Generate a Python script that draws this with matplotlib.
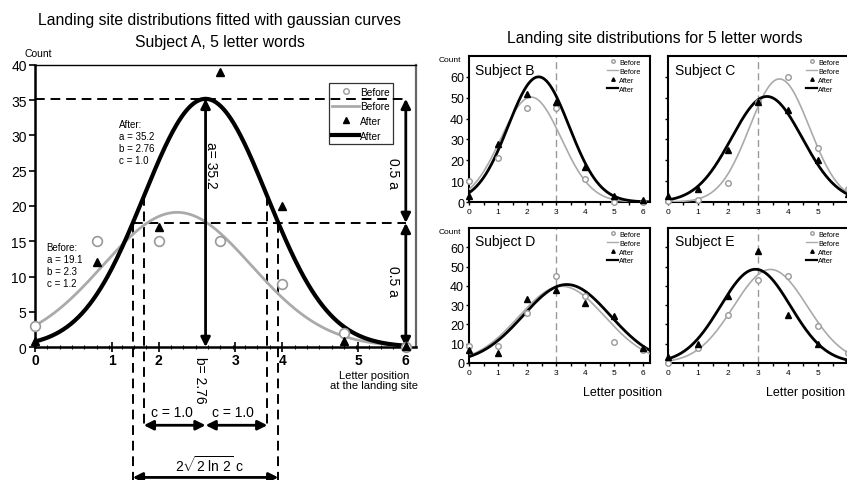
import numpy as np
import matplotlib
matplotlib.use("Agg")
import matplotlib.pyplot as plt
from matplotlib.lines import Line2D

plt.rcParams["font.family"] = ["Liberation Sans", "DejaVu Sans"]
plt.rcParams["mathtext.fontset"] = "custom"
plt.rcParams["mathtext.rm"] = "Liberation Sans"
plt.rcParams["mathtext.it"] = "Liberation Sans"

POSITIONS = [0, 1, 2, 3, 4, 5, 6]

# Subject A (left panel): measured counts and gaussian fit parameters (a, b, c)
A_BEFORE = [3, 15, 15, 15, 9, 2, 0]
A_AFTER = [0.9, 12, 17, 39, 20, 0.9, 0.2]
A_FIT_BEFORE = (19.1, 2.3, 1.2)
A_FIT_AFTER = (35.2, 2.76, 1.0)
A_TICK_POS = [0, 1.25, 2, 3.24, 4, 5.23, 6]
A_TICK_LABELS = ["0", "1", "2", "3", "4", "5", "6"]

# Subjects B-E (right panels)
SUBJECTS = ["B", "C", "D", "E"]
BEFORE = {
    "B": [10, 21, 45, 45, 11, 0, 0],
    "C": [0.5, 1, 9, 48, 60, 26, 6],
    "D": [9, 9, 26, 45, 35, 11, 7],
    "E": [0, 8, 25, 43, 45, 19, 5],
}
AFTER = {
    "B": [3, 28, 52, 48, 17, 3, 1],
    "C": [3, 6, 25, 48, 44, 20, 4],
    "D": [7, 5, 33, 38, 31, 24.5, 8],
    "E": [3, 10, 35, 58, 25, 10, 2],
}
FIT_BEFORE = {"B": (50.3, 2.14, 1.04), "C": (59, 3.72, 1.0),
              "D": (39.8, 3.2, 1.48), "E": (48.5, 3.42, 1.23)}
FIT_AFTER = {"B": (60, 2.4, 1.05), "C": (50.6, 3.3, 1.18),
             "D": (40.7, 3.37, 1.5), "E": (48.6, 2.92, 1.17)}

GREY = "#aaaaaa"
W, H = 847, 481


def gauss(x, a, b, c):
    return a * np.exp(-(x - b) ** 2 / (2 * c ** 2))


def px_axes(left, top, right, bottom):
    return [left / W, 1 - bottom / H, (right - left) / W, (bottom - top) / H]


fig = plt.figure(figsize=(W / 100, H / 100), dpi=100)

# ---------------- left panel: subject A ----------------
ax = fig.add_axes(px_axes(35, 66, 416, 348))
ax.set_xlim(0, 6.165)
ax.set_ylim(0, 40)
xs = np.linspace(0, 6, 300)
a1, b1, c1 = A_FIT_AFTER
ax.plot(xs, gauss(xs, *A_FIT_BEFORE), color=GREY, lw=2, zorder=3)
ax.plot(xs, gauss(xs, *A_FIT_AFTER), color="black", lw=3, zorder=4)
ax.plot(POSITIONS, A_BEFORE, "o", mfc="white", mec="#999999", ms=7, mew=1.2,
        ls="none", zorder=5, clip_on=False)
ax.plot(POSITIONS, A_AFTER, "^", color="black", ms=6, ls="none", zorder=6, clip_on=False)

half = a1 / 2
hw = np.sqrt(2 * np.log(2)) * c1
dash = dict(color="black", lw=1.4, ls=(0, (5, 3)), clip_on=False, zorder=2)
ax.plot([0, 6], [a1, a1], **dash)
ax.plot([b1 - hw, 6], [half, half], **dash)
for xv in (b1 - hw, b1 + hw):
    ax.plot([xv, xv], [half, -19.5], **dash)
for xv in (b1 - c1, b1 + c1):
    ax.plot([xv, xv], [gauss(xv, *A_FIT_AFTER), -11.3], **dash)

arrow = dict(arrowstyle="<|-|>", color="black", lw=2, mutation_scale=14,
             shrinkA=0, shrinkB=0)
ax.annotate("", xy=(b1, 0), xytext=(b1, a1), arrowprops=arrow, annotation_clip=False)
ax.annotate("", xy=(6, half), xytext=(6, a1), arrowprops=arrow, annotation_clip=False)
ax.annotate("", xy=(6, 0), xytext=(6, half), arrowprops=arrow, annotation_clip=False)
ax.annotate("", xy=(b1 - c1, -11.1), xytext=(b1, -11.1), arrowprops=arrow, annotation_clip=False)
ax.annotate("", xy=(b1, -11.1), xytext=(b1 + c1, -11.1), arrowprops=arrow, annotation_clip=False)
ax.annotate("", xy=(b1 - hw, -18.5), xytext=(b1 + hw, -18.5), arrowprops=arrow,
            annotation_clip=False)

ax.text(2.84, 25.9, "a= 35.2", rotation=-90, ha="center", va="center", fontsize=10)
ax.text(5.8, 24.8, "0.5 a", rotation=-90, ha="center", va="center", fontsize=10)
ax.text(5.8, 9.5, "0.5 a", rotation=-90, ha="center", va="center", fontsize=10)
ax.text(2.67, -4.6, "b= 2.76", rotation=-90, ha="center", va="center", fontsize=10, clip_on=False)
ax.text(2.22, -9.2, "c = 1.0", ha="center", va="center", fontsize=10, clip_on=False)
ax.text(3.2, -9.2, "c = 1.0", ha="center", va="center", fontsize=10, clip_on=False)
ax.text(2.83, -16.6, r"$2\sqrt{2\ \mathrm{ln}\ 2}\ \mathrm{c}$", ha="center", va="center",
        fontsize=10, clip_on=False)
ax.text(1.36, 32.4, "After:\na = 35.2\nb = 2.76\nc = 1.0", ha="left", va="top",
        fontsize=7, linespacing=1.25)
ax.text(0.19, 14.9, "Before:\na = 19.1\nb = 2.3\nc = 1.2", ha="left", va="top",
        fontsize=7, linespacing=1.25)

ax.set_yticks(range(0, 41, 5))
ax.set_xticks(A_TICK_POS, A_TICK_LABELS, fontweight="bold")
ax.set_xticks(np.arange(0, 6.01, 0.2), minor=True)
ax.tick_params(axis="y", direction="out", length=4, width=1.2, labelsize=10, pad=2)
ax.tick_params(axis="x", which="major", direction="inout", length=7, width=1.2,
               labelsize=10, pad=1)
ax.tick_params(axis="x", which="minor", direction="inout", length=3, width=0.8)
ax.spines["left"].set_linewidth(1.8)
ax.spines["bottom"].set_linewidth(1.8)
ax.spines["top"].set_linewidth(1.0)
ax.spines["right"].set_color("#666666")
ax.spines["right"].set_linewidth(1.6)

handles = [
    Line2D([], [], marker="o", mfc="white", mec="#999999", ms=4, ls="none", label="Before"),
    Line2D([], [], color=GREY, lw=2, label="Before"),
    Line2D([], [], marker="^", color="black", ms=5, ls="none", label="After"),
    Line2D([], [], color="black", lw=3, label="After"),
]
leg = ax.legend(handles=handles, loc="upper right", bbox_to_anchor=(0.94, 0.935),
                fontsize=7.3, frameon=True, fancybox=False, handlelength=2.6,
                handletextpad=0.1, borderpad=0.35, labelspacing=0.45, borderaxespad=0)
leg.get_frame().set_facecolor("none")
leg.get_frame().set_edgecolor("black")
leg.get_frame().set_linewidth(0.9)

fig.text(220 / W, 1 - 20 / H, "Landing site distributions fitted with gaussian curves",
         ha="center", va="center", fontsize=11.3)
fig.text(220 / W, 1 - 42 / H, "Subject A, 5 letter words", ha="center", va="center",
         fontsize=11.3)
fig.text(38 / W, 1 - 54 / H, "Count", ha="center", va="center", fontsize=7.5)
fig.text(374 / W, 1 - 381 / H, "Letter position\nat the landing site", ha="center",
         va="center", fontsize=8, linespacing=1.0)

# ---------------- right panels: subjects B-E ----------------
fig.text(655 / W, 1 - 38 / H, "Landing site distributions for 5 letter words",
         ha="center", va="center", fontsize=11.3)

boxes = {"B": (469, 57, 650, 203), "C": (668, 57, 855, 203),
         "D": (469, 229, 650, 364), "E": (668, 229, 855, 364)}
xs2 = np.linspace(0, 6.3, 300)
for s in SUBJECTS:
    l, t, r, b = boxes[s]
    sax = fig.add_axes(px_axes(l, t, r, b))
    sax.set_xlim(0, 6.24)
    sax.set_ylim(0, 70)
    sax.axvline(3, color="#999999", lw=1, ls=(0, (5, 3)), zorder=1)
    sax.plot(xs2, gauss(xs2, *FIT_BEFORE[s]), color=GREY, lw=1.2, zorder=3)
    sax.plot(xs2, gauss(xs2, *FIT_AFTER[s]), color="black", lw=2, zorder=4)
    sax.plot(POSITIONS, BEFORE[s], "o", mfc="white", mec="#999999", ms=4, mew=1,
             ls="none", zorder=5, clip_on=False)
    sax.plot(POSITIONS, AFTER[s], "^", color="black", ms=4, ls="none", zorder=6, clip_on=False)
    if s in ("C", "E"):
        # position 6 falls at the picture's right edge, its label is not shown
        sax.set_xticks(POSITIONS, [str(p) for p in POSITIONS[:-1]] + [""])
    else:
        sax.set_xticks(POSITIONS)
    sax.set_xticks(np.arange(0.5, 6.2, 1), minor=True)
    sax.set_yticks(range(0, 61, 10))
    sax.tick_params(axis="x", which="both", direction="out", length=2.5, width=1,
                    labelsize=6, pad=2)
    sax.tick_params(axis="y", direction="out", length=2.5, width=1, labelsize=9, pad=1)
    if s in ("C", "E"):
        sax.set_yticklabels([])
    else:
        fig.text(450 / W, 1 - (t + 4) / H, "Count", ha="center", va="center", fontsize=6)
    for sp in sax.spines.values():
        sp.set_linewidth(1.5)
    sax.text(0.035, 0.905, "Subject " + s, transform=sax.transAxes, ha="left",
             va="center", fontsize=10)
    sh = [
        Line2D([], [], marker="o", mfc="white", mec="#999999", ms=2.5, ls="none", label="Before"),
        Line2D([], [], color=GREY, lw=1, label="Before"),
        Line2D([], [], marker="^", color="black", ms=2.5, ls="none", label="After"),
        Line2D([], [], color="black", lw=1.6, label="After"),
    ]
    sax.legend(handles=sh, loc="upper left", bbox_to_anchor=(137 / (r - l), 0.99),
               fontsize=5.2, frameon=False, handlelength=1.5, handletextpad=0.1,
               borderpad=0.2, labelspacing=0.25, borderaxespad=0)

fig.text(623 / W, 1 - 393 / H, "Letter position", ha="center", va="center", fontsize=9)
fig.text(806 / W, 1 - 393 / H, "Letter position", ha="center", va="center", fontsize=9)

fig.savefig("out.png", dpi=100)
